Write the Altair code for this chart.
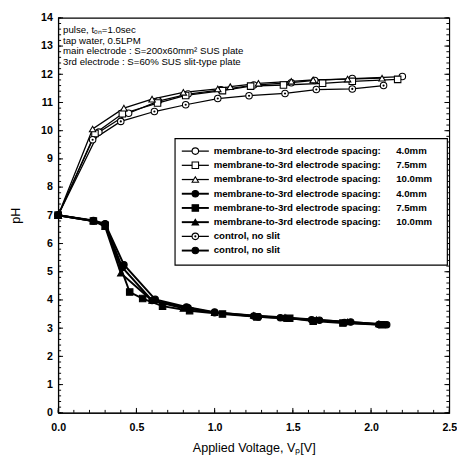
import altair as alt
import pandas as pd

# ---------------- data ----------------
series_keys = ["m40_open", "m75_open", "m100_open", "m40_fill", "m75_fill", "m100_fill", "ctrl_open", "ctrl_fill"]
legend_labels = ["membrane-to-3rd electrode spacing:"] * 6 + ["control, no slit"] * 2
legend_values = ["4.0mm", "7.5mm", "10.0mm", "4.0mm", "7.5mm", "10.0mm", "", ""]
shapes = ["circle", "square", "triangle-up", "circle", "square", "triangle-up", "circle", "circle"]
fills = ["white", "white", "white", "black", "black", "black", "white", "black"]
widths = [1.3, 1.3, 1.3, 2.0, 2.0, 2.0, 1.3, 2.0]

x_m40_open = [0, 0.26, 0.45, 0.64, 0.83, 1.04, 1.25, 1.49, 1.64, 1.88, 2.2]
y_m40_open = [7, 9.95, 10.62, 11.05, 11.3, 11.45, 11.62, 11.7, 11.78, 11.85, 11.92]
x_m75_open = [0, 0.235, 0.41, 0.635, 0.815, 1.05, 1.23, 1.44, 1.69, 1.88, 2.17]
y_m75_open = [7, 9.9, 10.6, 10.98, 11.25, 11.42, 11.58, 11.62, 11.68, 11.75, 11.82]
x_m100_open = [0, 0.22, 0.42, 0.6, 0.8, 1.02, 1.1, 1.28, 1.49, 1.63, 1.85, 2.07]
y_m100_open = [7, 10.06, 10.8, 11.12, 11.36, 11.48, 11.56, 11.68, 11.75, 11.8, 11.83, 11.86]
x_ctrl_open = [0, 0.22, 0.40, 0.615, 0.815, 1.02, 1.22, 1.45, 1.65, 1.88, 2.08]
y_ctrl_open = [7, 9.68, 10.33, 10.68, 10.92, 11.14, 11.24, 11.32, 11.46, 11.48, 11.6]

x_m40_fill = [0, 0.225, 0.30, 0.41, 0.60, 0.83, 1.0, 1.28, 1.45, 1.67, 1.87, 2.1]
y_m40_fill = [7, 6.8, 6.68, 5.15, 3.98, 3.72, 3.55, 3.4, 3.35, 3.28, 3.22, 3.12]
x_m75_fill = [0, 0.225, 0.30, 0.457, 0.54, 0.667, 0.84, 1.05, 1.27, 1.48, 1.63, 1.82, 2.07]
y_m75_fill = [7, 6.8, 6.65, 4.28, 4.05, 3.78, 3.62, 3.5, 3.4, 3.35, 3.25, 3.18, 3.12]
x_m100_fill = [0, 0.225, 0.30, 0.40, 0.60, 0.8, 1.0, 1.25, 1.45, 1.65, 1.85, 2.05]
y_m100_fill = [7, 6.8, 6.6, 4.95, 3.98, 3.7, 3.55, 3.45, 3.38, 3.3, 3.22, 3.15]
x_ctrl_fill = [0, 0.225, 0.3, 0.42, 0.62, 0.82, 1.0, 1.25, 1.42, 1.62, 1.83, 2.05]
y_ctrl_fill = [7, 6.82, 6.7, 5.25, 4.02, 3.75, 3.57, 3.43, 3.37, 3.3, 3.2, 3.13]

annotation_lines = [
    "pulse, t\u2092\u2099=1.0sec",
    "tap water, 0.5LPM",
    "main electrode : S=200x60mm\u00b2 SUS plate",
    "3rd electrode : S=60% SUS slit-type plate",
]

x_major = [0.0, 0.5, 1.0, 1.5, 2.0, 2.5]
x_minor = [round(i * 0.1, 1) for i in range(26)]
y_major = list(range(15))
y_minor = [round(i * 0.2, 1) for i in range(71)]

W, H = 405, 409

# ---------------- tables ----------------
xs = [x_m40_open, x_m75_open, x_m100_open, x_m40_fill, x_m75_fill, x_m100_fill, x_ctrl_open, x_ctrl_fill]
ys = [y_m40_open, y_m75_open, y_m100_open, y_m40_fill, y_m75_fill, y_m100_fill, y_ctrl_open, y_ctrl_fill]
rows = []
for k, xv, yv, w in zip(series_keys, xs, ys, widths):
    for a, b in zip(xv, yv):
        rows.append({"series": k, "V": a, "pH": b, "lw": w})
df = pd.DataFrame(rows)

leg = pd.DataFrame({
    "series": series_keys,
    "row": list(range(len(series_keys))),
    "label": legend_labels,
    "val": legend_values,
    "lw": widths,
})

FONT = "Liberation Sans"
shape_scale = alt.Scale(domain=series_keys, range=shapes)
fill_scale = alt.Scale(domain=series_keys, range=fills)
width_scale = alt.Scale(domain=[1.3, 2.0], range=[1.3, 2.0])

xscale = alt.Scale(domain=[0, 2.5], nice=False)
yscale = alt.Scale(domain=[0, 14], nice=False)
xaxis = alt.Axis(values=x_major, format=".1f", title="Applied Voltage, V\u209a[V]",
                 labelOverlap=False, labelFlush=False, grid=False, ticks=False,
                 labelPadding=9, titlePadding=10)
yaxis = alt.Axis(values=y_major, format="d", title="pH", labelOverlap=False,
                 grid=False, ticks=False, labelPadding=6, titlePadding=19)
xenc = alt.X("V:Q", scale=xscale, axis=xaxis)
yenc = alt.Y("pH:Q", scale=yscale, axis=yaxis)

base = alt.Chart(df)
lines = base.mark_line(color="black").encode(
    x=xenc, y=yenc, detail="series:N",
    strokeWidth=alt.StrokeWidth("lw:Q", scale=width_scale, legend=None),
)
points = base.mark_point(stroke="black", strokeWidth=1.1, size=45, opacity=1, filled=False).encode(
    x=xenc, y=yenc,
    shape=alt.Shape("series:N", scale=shape_scale, legend=None),
    fill=alt.Fill("series:N", scale=fill_scale, legend=None),
)
dots = base.transform_filter(alt.datum.series == "ctrl_open").mark_point(
    filled=True, color="black", size=5, shape="circle", opacity=1).encode(x=xenc, y=yenc)

# inward ticks
def xticks(vals, size):
    return alt.Chart(pd.DataFrame({"V": vals})).mark_rule(color="black", strokeWidth=1).encode(
        x=xenc, y=alt.value(H), y2=alt.value(H - size))

def yticks(vals, size, right=False):
    x0 = W if right else 0
    x1 = W - size if right else size
    return alt.Chart(pd.DataFrame({"pH": vals})).mark_rule(color="black", strokeWidth=1).encode(
        y=yenc, x=alt.value(x0), x2=alt.value(x1))

tick_layers = [xticks(x_minor, 3), xticks(x_major, 5),
               yticks(y_minor, 3), yticks(y_major, 5),
               yticks(y_minor, 3, True), yticks(y_major, 5, True)]

notes = alt.Chart(pd.DataFrame({"t": ["\n".join(annotation_lines)]})).mark_text(
    align="left", baseline="top", font=FONT, fontSize=10, lineBreak="\n", lineHeight=10.8, color="black"
).encode(text="t:N", x=alt.value(5), y=alt.value(8))

data_layer = alt.layer(lines, points, dots, *tick_layers, notes)

# ---------------- legend ----------------
lrow = alt.Y("row:Q", scale=alt.Scale(domain=[0, 7], range=[138, 241]), axis=None)
lbase = alt.Chart(leg)
box = alt.Chart(pd.DataFrame({"b": [0]})).mark_rect(fill="white", stroke="black", strokeWidth=1.2).encode(
    x=alt.value(121), x2=alt.value(403), y=alt.value(125), y2=alt.value(256))
lline = lbase.mark_rule(color="black").encode(
    x=alt.value(128), x2=alt.value(156), y=lrow,
    strokeWidth=alt.StrokeWidth("lw:Q", scale=width_scale, legend=None))
lpts = lbase.mark_point(stroke="black", strokeWidth=1.1, size=45, opacity=1, filled=False).encode(
    x=alt.value(142), y=lrow,
    shape=alt.Shape("series:N", scale=shape_scale, legend=None),
    fill=alt.Fill("series:N", scale=fill_scale, legend=None))
ldot = lbase.transform_filter(alt.datum.series == "ctrl_open").mark_point(
    filled=True, color="black", size=5, shape="circle", opacity=1).encode(x=alt.value(142), y=lrow)
ltxt = lbase.mark_text(align="left", baseline="middle", font=FONT, fontSize=10, fontWeight="bold",
                       color="black").encode(x=alt.value(161), y=lrow, text="label:N")
lval = lbase.mark_text(align="left", baseline="middle", font=FONT, fontSize=10, fontWeight="bold",
                       color="black").encode(x=alt.value(350), y=lrow, text="val:N")
legend_layer = alt.layer(box, lline, lpts, ldot, ltxt, lval)

chart = alt.layer(data_layer, legend_layer).resolve_scale(y="independent").properties(
    width=W, height=H,
    autosize=alt.AutoSizeParams(type="none"),
    padding={"left": 52, "top": 2, "right": 8, "bottom": 50},
).configure_view(stroke="black", strokeWidth=1.2).configure_axis(
    domainColor="black", tickColor="black", labelColor="black", titleColor="black",
    labelFont=FONT, labelFontSize=11, labelFontWeight="bold", labelOverlap=False,
    titleFont=FONT, titleFontSize=13, titleFontWeight="normal",
)

chart.save("out.html", embed_options={"renderer": "svg", "actions": False})
